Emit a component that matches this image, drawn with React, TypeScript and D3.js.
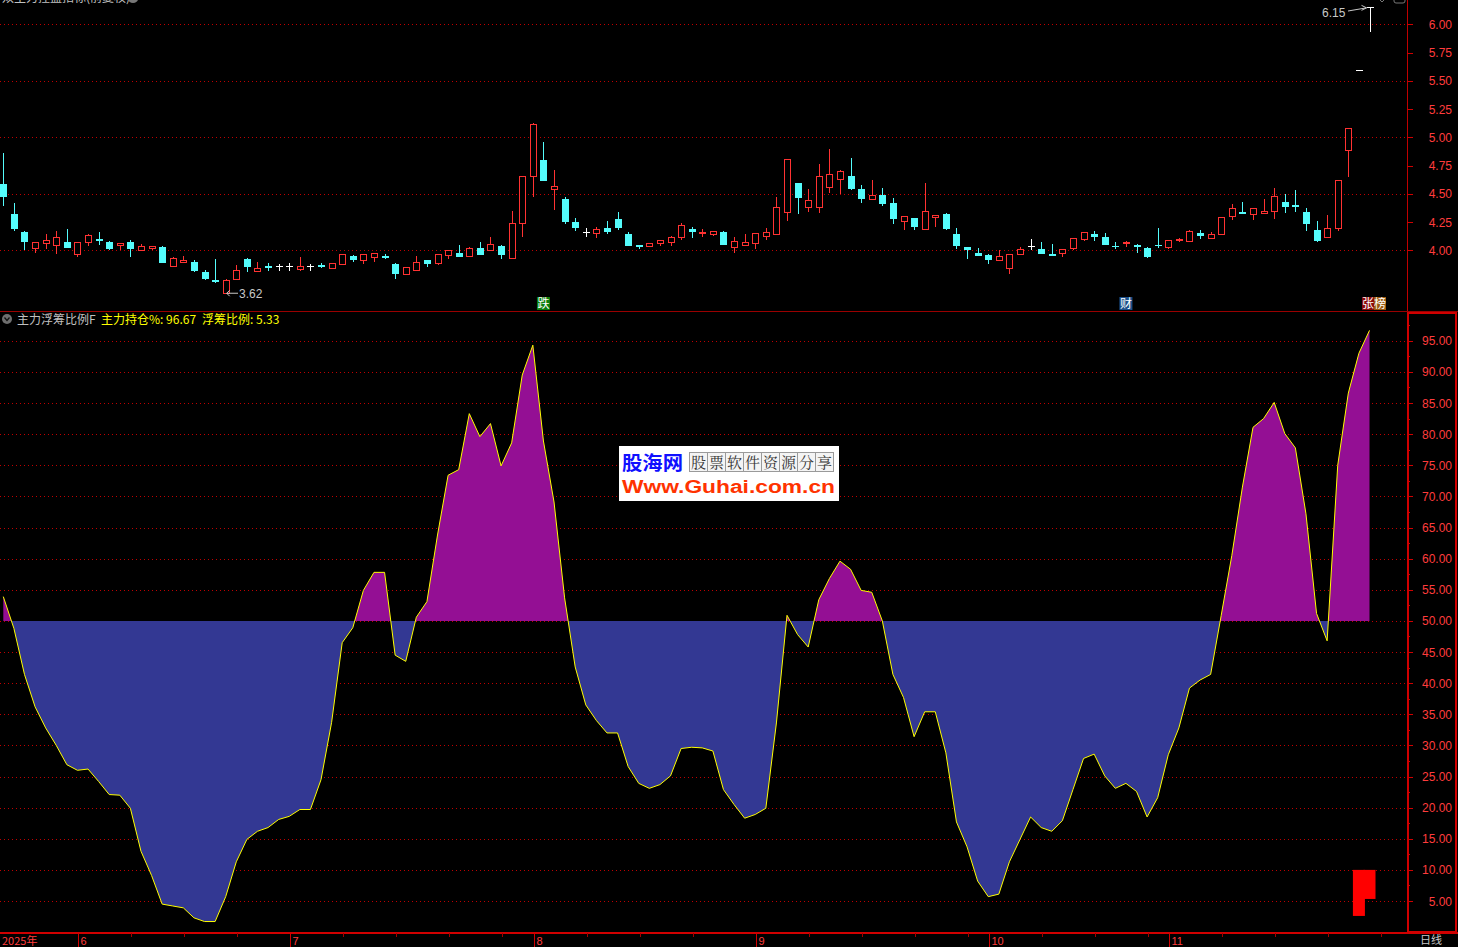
import React from 'react';
import * as d3 from 'd3';

// ---------- data ----------
const opens = [4.59,4.32,4.16,4.02,4.06,4.04,4.07,3.96,4.07,4.10,4.07,4.04,4.07,4.00,4.015,4.03,3.86,3.89,3.90,3.81,3.735,3.62,3.74,3.92,3.81,3.86,3.86,3.86,3.83,3.86,3.87,3.84,3.875,3.95,3.91,3.94,3.95,3.88,3.785,3.82,3.91,3.88,3.955,3.975,3.945,4.02,4.00,4.035,3.93,4.24,4.655,4.80,4.54,4.45,4.25,4.155,4.15,4.195,4.275,4.14,4.045,4.03,4.06,4.07,4.11,4.19,4.15,4.14,4.16,4.027,4.045,4.06,4.12,4.14,4.335,4.60,4.38,4.38,4.56,4.63,4.655,4.54,4.45,4.485,4.415,4.255,4.29,4.18,4.29,4.32,4.14,4.025,3.975,3.955,3.91,3.84,3.965,4.035,4.01,3.965,3.975,4.02,4.10,4.14,4.115,4.04,4.06,4.045,4.02,4.05,4.027,4.085,4.08,4.15,4.105,4.14,4.30,4.335,4.32,4.327,4.345,4.425,4.40,4.335,4.177,4.115,4.195,4.885,5.59,6.15];
const highs = [4.86,4.42,4.17,4.07,4.14,4.17,4.19,4.07,4.14,4.16,4.08,4.06,4.09,4.06,4.04,4.04,3.94,3.95,3.91,3.83,3.92,3.75,3.87,3.93,3.90,3.89,3.875,3.89,3.94,3.875,3.89,3.89,3.96,3.96,3.96,3.97,3.97,3.89,3.85,3.95,3.91,3.96,3.995,4.045,4.03,4.07,4.12,4.045,4.345,4.655,5.125,4.955,4.71,4.47,4.29,4.195,4.21,4.255,4.335,4.16,4.045,4.06,4.09,4.13,4.24,4.205,4.185,4.17,4.17,4.115,4.14,4.15,4.195,4.47,4.80,4.60,4.54,4.76,4.90,4.71,4.82,4.575,4.62,4.555,4.46,4.30,4.29,4.60,4.31,4.33,4.195,4.025,4.02,3.97,4.00,3.965,4.025,4.10,4.07,4.06,4.01,4.105,4.16,4.17,4.15,4.07,4.08,4.06,4.025,4.195,4.09,4.105,4.18,4.18,4.16,4.29,4.41,4.425,4.37,4.45,4.555,4.495,4.53,4.37,4.255,4.31,4.62,5.08,5.59,6.15];
const lows = [4.39,4.17,4.00,3.98,4.01,3.97,4.02,3.94,4.04,4.05,4.00,4.00,3.94,4.00,4.00,3.89,3.86,3.89,3.81,3.74,3.715,3.62,3.74,3.81,3.81,3.82,3.82,3.82,3.82,3.82,3.84,3.84,3.875,3.90,3.88,3.90,3.92,3.75,3.785,3.82,3.855,3.87,3.92,3.94,3.945,3.96,4.00,3.92,3.93,4.12,4.47,4.615,4.36,4.235,4.17,4.12,4.11,4.145,4.18,4.04,4.01,4.025,4.04,4.04,4.095,4.11,4.12,4.13,4.05,3.98,4.045,4.015,4.095,4.14,4.255,4.325,4.34,4.33,4.51,4.50,4.53,4.42,4.45,4.395,4.235,4.18,4.18,4.18,4.21,4.18,4.01,3.92,3.95,3.88,3.91,3.79,3.955,4.00,3.965,3.95,3.945,4.00,4.08,4.08,4.045,4.01,4.027,3.98,3.935,4.02,4.01,4.07,4.08,4.10,4.105,4.135,4.265,4.327,4.265,4.327,4.28,4.327,4.335,4.17,4.07,4.105,4.17,4.65,5.59,5.93];
const closes = [4.47,4.19,4.07,4.07,4.09,4.11,4.02,4.07,4.13,4.085,4.01,4.06,4.01,4.03,4.03,3.89,3.93,3.91,3.82,3.75,3.725,3.735,3.82,3.85,3.84,3.845,3.86,3.86,3.86,3.86,3.85,3.88,3.96,3.91,3.96,3.97,3.93,3.79,3.85,3.89,3.88,3.96,3.995,3.945,4.02,3.96,4.05,3.96,4.24,4.655,5.115,4.615,4.566,4.25,4.20,4.155,4.185,4.165,4.20,4.04,4.04,4.06,4.09,4.115,4.22,4.165,4.16,4.17,4.05,4.08,4.07,4.15,4.16,4.38,4.80,4.465,4.44,4.655,4.67,4.70,4.545,4.455,4.485,4.41,4.28,4.30,4.21,4.345,4.31,4.19,4.04,4.00,3.95,3.915,3.945,3.965,4.01,4.035,3.965,3.96,4.01,4.105,4.16,4.115,4.045,4.027,4.073,4.035,3.945,4.045,4.09,4.10,4.17,4.125,4.14,4.29,4.37,4.327,4.37,4.345,4.48,4.38,4.39,4.23,4.08,4.195,4.62,5.08,5.59,6.15];

// 主力持仓%
const holdPct = [53.9,48.8,41.4,36.2,32.8,30.0,26.9,26.0,26.2,24.2,22.1,22.0,19.9,13.0,9.1,4.5,4.2,3.9,2.3,1.7,1.7,5.7,11.3,14.9,16.2,16.8,18.1,18.6,19.7,19.7,24.5,33.7,46.5,48.9,54.9,57.8,57.8,44.5,43.5,50.6,53.1,63.8,73.4,74.3,83.3,79.6,81.7,74.9,78.6,89.5,94.3,78.9,69.1,53.7,42.6,36.5,34.0,32.0,32.0,26.6,23.9,23.1,23.7,25.1,29.5,29.7,29.6,29.1,22.9,20.5,18.3,18.9,19.9,33.6,50.9,47.8,45.8,53.4,56.8,59.6,58.3,54.9,54.6,50.0,41.4,37.7,31.4,35.4,35.4,28.8,17.7,13.7,8.2,5.7,6.1,11.3,14.9,18.5,16.8,16.2,17.9,22.9,27.9,28.6,25.1,23.1,23.9,22.6,18.5,21.6,28.5,32.8,39.2,40.5,41.4,50.9,60.5,71.5,81.1,82.5,85.1,80.1,77.8,67.2,51.2,46.8,75.0,86.6,93.0,96.67];

// 浮筹比例 bars (last two days)
const floatIdx = [128, 129];
const floatRatio = [2.6, 5.33];

const priceTicks = [4.0, 4.25, 4.5, 4.75, 5.0, 5.25, 5.5, 5.75, 6.0];
const priceGrid = [4.0, 4.5, 5.0, 5.5, 6.0];
const indTicks = [5, 10, 15, 20, 25, 30, 35, 40, 45, 50, 55, 60, 65, 70, 75, 80, 85, 90, 95];
const monthStarts = [7, 27, 50, 71, 93, 110];
const monthLabels = ['6', '7', '8', '9', '10', '11'];
const markerIdx = [51, 106];
const markerText = ['跌', '财'];
const markerBg = ['#0a7d0a', '#1b4f8a'];

// ---------- layout ----------
const W = 1458;
const H = 947;
const AXIS_X = 1407;
const RED = '#ff3c3c';
const GRID = '#c00000';
const UP = '#ff3232';
const DOWN = '#54fcfc';
const NUM_FONT = '"Liberation Sans", Arial, sans-serif';
const CJK_FONT = '"Noto Sans CJK SC", "Noto Sans", sans-serif';

const n = closes.length;
const xScale = d3.scaleLinear().domain([0, n - 1]).range([3.3, 1369.5]);
const py = d3.scaleLinear().domain([4, 6]).range([250.3, 24.3]);
const iy = d3.scaleLinear().domain([50, 95]).range([620.9, 340.8]);

const lowerTop = 312;
const lowerBottom = 932;

function Candle({ i }: { i: number }) {
  const o = opens[i], c = closes[i], h = highs[i], l = lows[i];
  const cx = Math.round(xScale(i)) + 0.5;
  const yH = py(h), yL = py(l);
  const top = py(Math.max(o, c));
  const bot = py(Math.min(o, c));
  if (c > o) {
    return (
      <g stroke={UP} strokeWidth={1} fill="none" shapeRendering="crispEdges">
        {yH < top && <line x1={cx} x2={cx} y1={yH} y2={top} />}
        {yL > bot && <line x1={cx} x2={cx} y1={bot} y2={yL} />}
        <rect x={cx - 3} y={top} width={6} height={Math.max(1, bot - top)} fill="#000" />
      </g>
    );
  }
  if (c < o) {
    return (
      <g shapeRendering="crispEdges">
        <line x1={cx} x2={cx} y1={yH} y2={yL} stroke={DOWN} strokeWidth={1} />
        <rect x={cx - 3.5} y={top} width={7} height={Math.max(1.5, bot - top)} fill={DOWN} />
      </g>
    );
  }
  return (
    <g stroke="#ffffff" strokeWidth={1} shapeRendering="crispEdges">
      <line x1={cx} x2={cx} y1={yH} y2={yL} />
      <line x1={cx - 3.5} x2={cx + 3.5} y1={top} y2={top} />
    </g>
  );
}

export default function App() {
  const area = d3.area<number>()
    .x((_, i) => xScale(i))
    .y0(iy(50))
    .y1((d) => iy(d));
  const line = d3.line<number>()
    .x((_, i) => xScale(i))
    .y((d) => iy(d));
  const areaPath = area(holdPct) || '';
  const linePath = line(holdPct) || '';

  // minor ticks every 5 bars after each month start
  const minorTicks: number[] = [];
  monthStarts.forEach((m, k) => {
    const next = k + 1 < monthStarts.length ? monthStarts[k + 1] : n + 2;
    for (let j = m + 5; j < next - 1; j += 5) minorTicks.push(j);
  });

  const lowIdx = 21;
  const topIdx = n - 1;
  const base = iy(50);

  return (
    <svg width={W} height={H} style={{ position: 'absolute', left: 0, top: 0, background: '#000', display: 'block' }}>
      <rect x={0} y={0} width={W} height={H} fill="#000" />
      <defs>
        <clipPath id="aboveClip"><rect x={0} y={lowerTop} width={AXIS_X} height={base - lowerTop} /></clipPath>
        <clipPath id="belowClip"><rect x={0} y={base} width={AXIS_X} height={lowerBottom - base} /></clipPath>
        <clipPath id="topClip"><rect x={0} y={0} width={AXIS_X} height={311} /></clipPath>
      </defs>

      {/* ---------- top panel ---------- */}
      <text x={2} y={2} fill="#c0c0c0" fontSize={12} fontFamily={CJK_FONT}>双主力控盘指标(前复权)</text>
      <ellipse cx={133} cy={-1} rx={5} ry={4} fill="#777" />
      <path d="M1379,-1 L1382,2 L1385,-1" stroke="#777" fill="none" />
      <rect x={1394} y={-6} width={11} height={9} rx={2} stroke="#777" fill="none" />

      {priceGrid.map((p) => (
        <line key={'pg' + p} x1={0} x2={AXIS_X} y1={Math.round(py(p)) + 0.5} y2={Math.round(py(p)) + 0.5}
          stroke={GRID} strokeDasharray="1 3" shapeRendering="crispEdges" />
      ))}
      <line x1={AXIS_X + 0.5} x2={AXIS_X + 0.5} y1={0} y2={311} stroke="#c00000" shapeRendering="crispEdges" />
      {priceTicks.map((p) => (
        <g key={'pt' + p}>
          <line x1={AXIS_X} x2={AXIS_X + 6} y1={Math.round(py(p)) + 0.5} y2={Math.round(py(p)) + 0.5} stroke="#d00000" shapeRendering="crispEdges" />
          <text x={1452} y={py(p) + 4.5} fill={RED} fontSize={12} fontFamily={NUM_FONT} textAnchor="end">{p.toFixed(2)}</text>
        </g>
      ))}

      <g clipPath="url(#topClip)">
        {closes.map((_, i) => <Candle key={'c' + i} i={i} />)}
      </g>

      {/* low / high annotations */}
      <g stroke="#c8c8c8" fill="none" strokeWidth={1}>
        <line x1={xScale(lowIdx) + 1} x2={238} y1={py(lows[lowIdx])} y2={py(lows[lowIdx])} />
        <path d={`M${xScale(lowIdx) + 4},${py(lows[lowIdx]) - 3} L${xScale(lowIdx) + 1},${py(lows[lowIdx])} L${xScale(lowIdx) + 4},${py(lows[lowIdx]) + 3}`} />
        <line x1={1348} x2={xScale(topIdx) - 3} y1={11} y2={py(highs[topIdx]) + 0.5} />
        <path d={`M${xScale(topIdx) - 8},${py(highs[topIdx]) - 2} L${xScale(topIdx) - 3},${py(highs[topIdx]) + 0.5} L${xScale(topIdx) - 8},${py(highs[topIdx]) + 3}`} />
      </g>
      <text x={239} y={298} fill="#c8c8c8" fontSize={12} fontFamily={NUM_FONT}>{lows[lowIdx].toFixed(2)}</text>
      <text x={1322} y={17} fill="#c8c8c8" fontSize={12} fontFamily={NUM_FONT}>{highs[topIdx].toFixed(2)}</text>

      {/* event markers */}
      {markerIdx.map((m, k) => (
        <g key={'mk' + k}>
          <rect x={xScale(m) - 6.5} y={297} width={13} height={13} fill={markerBg[k]} />
          <text x={xScale(m)} y={308} fill="#ffffff" fontSize={12} fontFamily={CJK_FONT} textAnchor="middle">{markerText[k]}</text>
        </g>
      ))}
      <rect x={xScale(topIdx) - 7.5} y={297} width={12} height={13} fill="#8a0a0a" />
      <rect x={xScale(topIdx) + 4.5} y={297} width={12} height={13} fill="#9a5a10" />
      <text x={xScale(topIdx) - 1.5} y={308} fill="#ffffff" fontSize={12} fontFamily={CJK_FONT} textAnchor="middle">张</text>
      <text x={xScale(topIdx) + 10.5} y={308} fill="#ffffff" fontSize={12} fontFamily={CJK_FONT} textAnchor="middle">榜</text>

      {/* separator */}
      <line x1={0} x2={W} y1={311.5} y2={311.5} stroke="#9a0000" shapeRendering="crispEdges" />

      {/* ---------- lower panel ---------- */}
      {indTicks.map((v) => (
        <line key={'ig' + v} x1={0} x2={AXIS_X} y1={Math.round(iy(v)) + 0.5} y2={Math.round(iy(v)) + 0.5}
          stroke={GRID} strokeDasharray="1 3" shapeRendering="crispEdges" />
      ))}

      <path d={areaPath} fill="#940f94" clipPath="url(#aboveClip)" />
      <path d={areaPath} fill="#333893" clipPath="url(#belowClip)" />
      <path d={linePath} fill="none" stroke="#ffff00" strokeWidth={1} />

      {floatIdx.map((idx, k) => (
        <rect key={'fb' + k} x={xScale(idx) - 6} y={iy(10)} width={12} height={iy(floatRatio[k]) - iy(10)} fill="#ff0000" />
      ))}

      {/* right axis box */}
      <rect x={AXIS_X + 1} y={lowerTop + 1} width={W - AXIS_X - 3} height={lowerBottom - lowerTop - 1} fill="none" stroke="#d00000" strokeWidth={2} />
      {indTicks.map((v) => (
        <g key={'it' + v}>
          <line x1={AXIS_X} x2={AXIS_X + 6} y1={Math.round(iy(v)) + 0.5} y2={Math.round(iy(v)) + 0.5} stroke="#d00000" shapeRendering="crispEdges" />
          <line x1={AXIS_X} x2={AXIS_X + 3} y1={Math.round(iy(v + 2.5)) + 0.5} y2={Math.round(iy(v + 2.5)) + 0.5} stroke="#d00000" shapeRendering="crispEdges" />
          <text x={1452} y={iy(v) + 4.5} fill={RED} fontSize={12} fontFamily={NUM_FONT} textAnchor="end">{v.toFixed(2)}</text>
        </g>
      ))}

      {/* watermark */}
      <g>
        <rect x={619} y={446} width={220} height={55} fill="#ffffff" />
        <text x={622} y={470} fill="#1010ff" fontSize={19} fontWeight="bold" fontFamily={CJK_FONT} textLength={61} lengthAdjust="spacingAndGlyphs">股海网</text>
        {'股票软件资源分享'.split('').map((ch, k) => (
          <g key={'wm' + k}>
            <rect x={689.5 + k * 18} y={452.5} width={18} height={19} fill="#f4f4f4" stroke="#9a9a9a" />
            <text x={698.5 + k * 18} y={468} fill="#333" fontSize={15} fontFamily='"Noto Serif CJK SC", "Noto Sans CJK SC", serif' textAnchor="middle">{ch}</text>
          </g>
        ))}
        <text x={622} y={493} fill="#ff3300" fontSize={18} fontWeight="bold" fontFamily={NUM_FONT} textLength={213} lengthAdjust="spacingAndGlyphs">Www.Guhai.com.cn</text>
      </g>

      {/* indicator title */}
      <circle cx={7} cy={319} r={5} fill="#6e6e6e" />
      <path d="M4.5,317.5 L7,320.5 L9.5,317.5" stroke="#111" strokeWidth={1.3} fill="none" />
      <text x={17} y={324} fill="#c0c0c0" fontSize={12} fontFamily={CJK_FONT}>主力浮筹比例F</text>
      <text x={101} y={324} fill="#ffff00" fontSize={12} fontFamily={CJK_FONT}>{`主力持仓%: ${holdPct[n - 1].toFixed(2)}`}</text>
      <text x={202} y={324} fill="#ffff00" fontSize={12} fontFamily={CJK_FONT}>{`浮筹比例: ${floatRatio[floatRatio.length - 1].toFixed(2)}`}</text>

      {/* ---------- bottom axis ---------- */}
      <line x1={0} x2={W} y1={933} y2={933} stroke="#d00000" strokeWidth={2} />
      <text x={2} y={945} fill={RED} fontSize={11} fontFamily={CJK_FONT}>2025年</text>
      {monthStarts.map((m, k) => {
        const x = Math.round(xScale(m)) + 1.5;
        return (
          <g key={'ms' + k}>
            <line x1={x} x2={x} y1={933} y2={947} stroke="#d00000" shapeRendering="crispEdges" />
            <text x={x + 2} y={945} fill={RED} fontSize={11} fontFamily={NUM_FONT}>{monthLabels[k]}</text>
          </g>
        );
      })}
      {minorTicks.map((m) => {
        const x = Math.round(xScale(m)) + 1.5;
        return <line key={'mt' + m} x1={x} x2={x} y1={933} y2={937} stroke="#a00000" shapeRendering="crispEdges" />;
      })}
      <text x={1420} y={944} fill="#c8c8c8" fontSize={11} fontFamily={CJK_FONT}>日线</text>
    </svg>
  );
}
